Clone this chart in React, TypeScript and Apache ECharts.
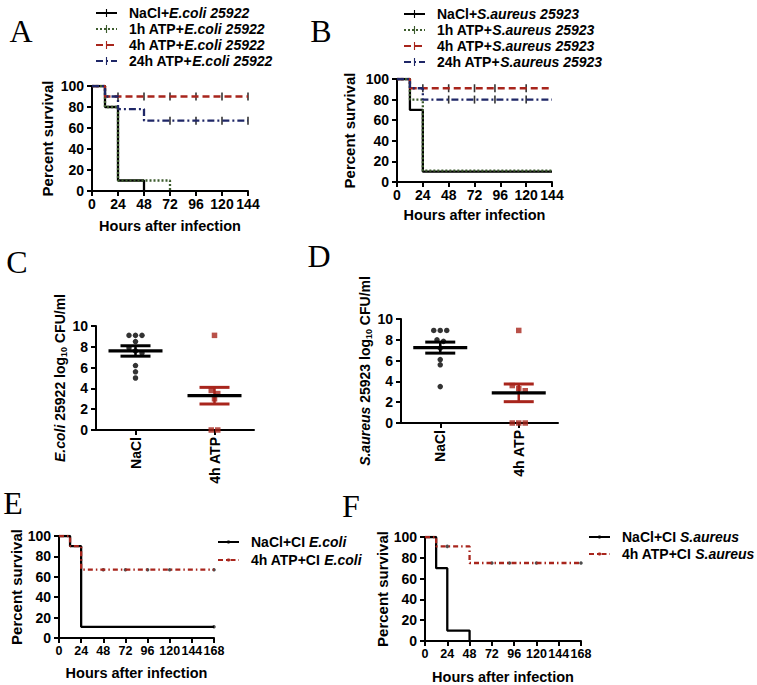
import React, { useEffect, useRef } from 'react';
import * as echarts from 'echarts';

const FONT = "'Liberation Sans', Arial, sans-serif";
const SERIF = "'Liberation Serif', 'Times New Roman', serif";
const RED = '#a8251c';
const NAVY = '#1f2767';
const GREEN = '#3d5c2e';
const BLACK = '#000000';

// ---------- Panel A (E.coli 25922) survival, [hour, percent] ----------
const aNaCl = [[0, 100], [12, 80], [24, 10], [48, 0]];
const a1h = [[0, 100], [12, 80], [24, 10], [72, 0]];
const a4h = [[0, 100], [12, 90], [144, 90]];
const a24h = [[0, 100], [12, 90], [24, 78], [48, 67], [144, 67]];
const a4hCensor = [24, 48, 72, 96, 120, 144];
const a24hCensor = [72, 96, 120, 144];
const aPrefixes = ['NaCl+', '1h ATP+', '4h ATP+', '24h ATP+'];
const aSpecies = 'E.coli 25922';

// ---------- Panel B (S.aureus 25923) survival ----------
const bNaCl = [[0, 100], [12, 70], [24, 10], [144, 10]];
const b1h = [[0, 100], [12, 80], [24, 11], [144, 11]];
const b4h = [[0, 100], [12, 91], [144, 91]];
const b24h = [[0, 100], [12, 91], [24, 80], [144, 80]];
const b4hCensor = [24, 48, 72, 91, 120];
const b24hCensor = [48, 72, 91, 120];
const bSpecies = 'S.aureus 25923';

// ---------- Panel C / D bacterial load (log10 CFU/ml) ----------
const loadCategories = ['NaCl', '4h ATP'];
const cNaCl = [9.1, 9.1, 9.1, 8.5, 7.9, 7.6, 7.4, 6.2, 5.6, 5.0];
const cATP = [9.1, 3.8, 3.5, 3.0, 0, 0];
const cMean = [7.6, 3.3];
const cSem = [0.5, 0.8];
const dNaCl = [8.9, 8.9, 8.9, 8.0, 7.85, 7.2, 6.1, 5.6, 3.5];
const dATP = [8.9, 3.6, 3.3, 3.1, 0, 0, 0];
const dMean = [7.25, 2.9];
const dSem = [0.53, 0.85];

// ---------- Panel E / F clinical isolates survival ----------
const eNaCl = [[0, 100], [12, 90], [24, 11], [168, 11]];
const e4h = [[0, 100], [12, 90], [24, 67], [168, 67]];
const eNaClCensor = [168];
const e4hCensor = [48, 72, 96, 120, 168];
const fNaCl = [[0, 100], [12, 70], [24, 10], [48, 0]];
const f4h = [[0, 100], [12, 91], [48, 75], [168, 75]];
const f4hCensor = [24, 72, 91, 120, 168];
const efPrefixes = ['NaCl+CI ', '4h ATP+CI '];
const eSpecies = 'E.coli';
const fSpecies = 'S.aureus';

const TICK = 'path://M0,0 M10,10 M4.3,0 L5.7,0 L5.7,10 L4.3,10 Z';

function valueAt(curve: number[][], t: number) {
  let v = curve[0][1];
  for (const p of curve) if (p[0] <= t) v = p[1];
  return v;
}

function spreadOffsets(values: number[], stepPx: number, tol: number) {
  const idx = values.map((v, i) => i).sort((a, b) => values[b] - values[a]);
  const offs = new Array(values.length).fill(0);
  let group: number[] = [];
  const flush = () => {
    group.forEach((gi, k) => {
      offs[gi] = (k - (group.length - 1) / 2) * stepPx;
    });
    group = [];
  };
  idx.forEach((i) => {
    if (group.length && values[group[group.length - 1]] - values[i] > tol) flush();
    group.push(i);
  });
  flush();
  return offs;
}

const bold = { fontFamily: FONT, fontWeight: 'bold' as const, fontSize: 14, color: BLACK };

function labelStyle(margin: number, fontSize = 14) {
  return { ...bold, fontSize, margin, showMinLabel: true, showMaxLabel: true, hideOverlap: false };
}

function axisCommon() {
  return {
    axisLine: { show: true, onZero: false, lineStyle: { color: BLACK, width: 2 } },
    axisTick: { show: true, length: 5, lineStyle: { color: BLACK, width: 2 } },
    axisLabel: labelStyle(6),
    splitLine: { show: false },
  };
}

function survX(gi: number, max: number, nameGap: number, fontSize: number) {
  return {
    type: 'value', gridIndex: gi, min: 0, max, interval: 24,
    name: 'Hours after infection', nameLocation: 'middle', nameGap,
    nameTextStyle: { ...bold, fontSize: 14.5 },
    ...axisCommon(),
    axisLabel: labelStyle(6, fontSize),
  };
}
function survY(gi: number, nameGap: number) {
  return {
    type: 'value', gridIndex: gi, min: 0, max: 100, interval: 20,
    name: 'Percent survival', nameLocation: 'middle', nameGap,
    nameTextStyle: { ...bold, fontSize: 15 },
    ...axisCommon(),
    axisLabel: labelStyle(8),
  };
}

function curve(name: string, gi: number, data: number[][], color: string, type: any, symbol: string, symbolSize: number) {
  return {
    type: 'line', name, xAxisIndex: gi, yAxisIndex: gi, data, step: 'end',
    showSymbol: false, symbol, symbolSize, silent: true,
    lineStyle: { color, width: 2.3, type },
    itemStyle: { color, borderWidth: 0 },
  };
}
function censor(gi: number, crv: number[][], times: number[], color: string, symbol: string, size: any) {
  return {
    type: 'scatter', name: 'censor', xAxisIndex: gi, yAxisIndex: gi, silent: true,
    symbol, symbolSize: size, itemStyle: { color },
    data: times.map((t) => [t, valueAt(crv, t)]),
  };
}

function legendRich() {
  return {
    n: { ...bold },
    i: { ...bold, fontStyle: 'italic' },
  };
}

function loadY(gi: number, italic: string, rest: string) {
  return {
    type: 'value', gridIndex: gi, min: 0, max: 10, interval: 2,
    name: `{i|${italic}}{b| ${rest} log}{s|10}{b| CFU/ml}`,
    nameLocation: 'middle', nameGap: 24,
    nameTextStyle: {
      ...bold,
      rich: {
        i: { ...bold, fontStyle: 'italic', lineHeight: 18 },
        b: { ...bold, lineHeight: 18 },
        s: { ...bold, fontSize: 9, lineHeight: 12, verticalAlign: 'bottom' },
      },
    },
    ...axisCommon(),
    axisLabel: labelStyle(8),
  };
}
function loadX(gi: number) {
  return {
    type: 'category', gridIndex: gi, data: loadCategories,
    ...axisCommon(),
    axisTick: { show: true, length: 5, alignWithLabel: true, lineStyle: { color: BLACK, width: 2 } },
    axisLabel: { ...bold, rotate: 90, margin: 7, interval: 0 },
  };
}
function dots(gi: number, catIdx: number, values: number[], color: string, symbol: string) {
  const offs = spreadOffsets(values, 6.5, 0.35);
  return {
    type: 'scatter', name: 'pts', xAxisIndex: gi, yAxisIndex: gi, silent: true,
    symbol, symbolSize: 5.5, itemStyle: { color },
    data: values.map((v, i) => ({ value: [catIdx, v], symbolOffset: [offs[i], 0] })),
  };
}
function meanSem(gi: number, means: number[], sems: number[], semColors: string[]) {
  return {
    type: 'custom', name: 'mean', xAxisIndex: gi, yAxisIndex: gi, silent: true, z: 5,
    data: means.map((m, i) => [i, m, sems[i]]),
    renderItem: (params: any, api: any) => {
      const i = api.value(0);
      const m = api.value(1);
      const s = api.value(2);
      const c = api.coord([i, m]);
      const t = api.coord([i, m + s]);
      const b = api.coord([i, m - s]);
      const sc = semColors[params.dataIndex];
      return {
        type: 'group',
        children: [
          { type: 'line', shape: { x1: c[0], y1: t[1], x2: c[0], y2: b[1] }, style: { stroke: sc, lineWidth: 2.5 } },
          { type: 'line', shape: { x1: c[0] - 15, y1: t[1], x2: c[0] + 15, y2: t[1] }, style: { stroke: sc, lineWidth: 3 } },
          { type: 'line', shape: { x1: c[0] - 15, y1: b[1], x2: c[0] + 15, y2: b[1] }, style: { stroke: sc, lineWidth: 3 } },
          { type: 'line', shape: { x1: c[0] - 27, y1: c[1], x2: c[0] + 27, y2: c[1] }, style: { stroke: BLACK, lineWidth: 3.2 } },
        ],
      };
    },
  };
}

function letter(text: string, x: number, y: number) {
  return {
    type: 'text', x, y, silent: true,
    style: { text, fontFamily: SERIF, fontSize: 32, fill: BLACK, align: 'center', verticalAlign: 'middle' },
  };
}

export default function App() {
  const ref = useRef<HTMLDivElement>(null);
  useEffect(() => {
    document.body.style.margin = '0';
    if (!ref.current) return;
    const chart = echarts.init(ref.current, undefined, { renderer: 'svg' });

    const aNames = aPrefixes.map((p) => p + aSpecies);
    const bNames = aPrefixes.map((p) => p + bSpecies);
    const eNames = efPrefixes.map((p) => p + eSpecies);
    const fNames = efPrefixes.map((p) => p + fSpecies);

    const legendFor = (names: string[], prefixes: string[], species: string, left: number, top: number, gap: number, itemHeight: number) => ({
      orient: 'vertical', left, top, padding: 0, itemGap: gap, itemWidth: 21, itemHeight,
      selectedMode: false, data: names,
      formatter: (name: string) => {
        const k = names.indexOf(name);
        return `{n|${prefixes[k]}}{i|${species}}`;
      },
      textStyle: { ...bold, padding: [0, 0, 0, 7], rich: legendRich() },
    });

    const option: any = {
      animation: false,
      backgroundColor: '#ffffff',
      grid: [
        { left: 92, top: 86, width: 156, height: 105 },
        { left: 397, top: 79, width: 155, height: 103 },
        { left: 96, top: 326, width: 158, height: 104 },
        { left: 401, top: 319, width: 157, height: 104 },
        { left: 59, top: 536, width: 155, height: 102 },
        { left: 425, top: 537, width: 156, height: 104 },
      ],
      xAxis: [
        survX(0, 144, 27, 14),
        survX(1, 144, 25, 14),
        loadX(2),
        loadX(3),
        survX(4, 168, 27, 12.5),
        survX(5, 168, 28, 12.5),
      ],
      yAxis: [
        survY(0, 37),
        survY(1, 40),
        loadY(2, 'E.coli', '25922'),
        loadY(3, 'S.aureus', '25923'),
        survY(4, 28),
        survY(5, 30),
      ],
      legend: [
        legendFor(aNames, aPrefixes, aSpecies, 95, 6, 2, 10),
        legendFor(bNames, aPrefixes, bSpecies, 403, 7, 2, 10),
        legendFor(eNames, efPrefixes, eSpecies, 217, 535, 4, 4),
        legendFor(fNames, efPrefixes, fSpecies, 588, 530, 3, 4),
      ],
      graphic: [
        letter('A', 21, 31),
        letter('B', 321, 31),
        letter('C', 17, 262),
        letter('D', 319, 256),
        letter('E', 13, 503),
        letter('F', 351, 506),
      ],
      series: [
        // A
        curve(aNames[0], 0, aNaCl, BLACK, 'solid', TICK, 8),
        curve(aNames[1], 0, a1h, GREEN, [2, 2], TICK, 8),
        curve(aNames[2], 0, a4h, RED, [7, 4], TICK, 8),
        curve(aNames[3], 0, a24h, NAVY, [7, 3, 2, 3], TICK, 8),
        censor(0, a4h, a4hCensor, BLACK, 'rect', [1.6, 8]),
        censor(0, a24h, a24hCensor, BLACK, 'rect', [1.6, 8]),
        // B
        curve(bNames[0], 1, bNaCl, BLACK, 'solid', TICK, 8),
        curve(bNames[1], 1, b1h, GREEN, [2, 2], TICK, 8),
        curve(bNames[2], 1, b4h, RED, [7, 4], TICK, 8),
        curve(bNames[3], 1, b24h, NAVY, [7, 3, 2, 3], TICK, 8),
        censor(1, b4h, b4hCensor, BLACK, 'rect', [1.6, 8]),
        censor(1, b24h, b24hCensor, BLACK, 'rect', [1.6, 8]),
        // C
        dots(2, 0, cNaCl, BLACK, 'circle'),
        dots(2, 1, cATP, RED, 'rect'),
        meanSem(2, cMean, cSem, [BLACK, RED]),
        // D
        dots(3, 0, dNaCl, BLACK, 'circle'),
        dots(3, 1, dATP, RED, 'rect'),
        meanSem(3, dMean, dSem, [BLACK, RED]),
        // E
        curve(eNames[0], 4, eNaCl, BLACK, 'solid', 'circle', 3),
        curve(eNames[1], 4, e4h, RED, [5, 3, 1.5, 3], 'circle', 3),
        censor(4, eNaCl, eNaClCensor, '#222222', 'circle', 3.5),
        censor(4, e4h, e4hCensor, '#222222', 'circle', 3.5),
        // F
        curve(fNames[0], 5, fNaCl, BLACK, 'solid', 'circle', 3),
        curve(fNames[1], 5, f4h, RED, [5, 3, 1.5, 3], 'circle', 3),
        censor(5, f4h, f4hCensor, '#222222', 'circle', 3.5),
      ],
    };
    chart.setOption(option);
    return () => chart.dispose();
  }, []);
  return <div ref={ref} style={{ width: 757, height: 685 }} />;
}
